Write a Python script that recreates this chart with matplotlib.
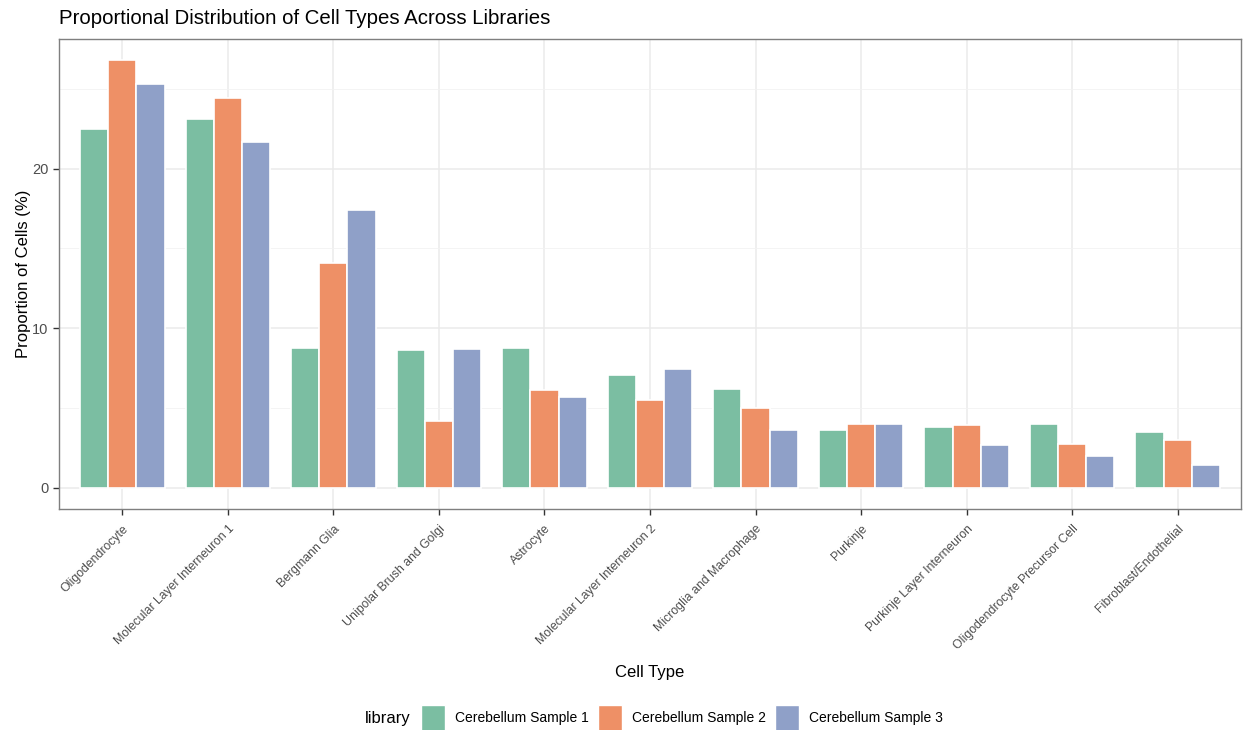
import numpy as np
import matplotlib.pyplot as plt
from matplotlib.patches import Patch
from matplotlib.ticker import MultipleLocator

plt.rcParams['font.family'] = ['Liberation Sans', 'DejaVu Sans']

cell_types = ['Oligodendrocyte', 'Molecular Layer Interneuron 1', 'Bergmann Glia',
              'Unipolar Brush and Golgi', 'Astrocyte', 'Molecular Layer Interneuron 2',
              'Microglia and Macrophage', 'Purkinje', 'Purkinje Layer Interneuron',
              'Oligodendrocyte Precursor Cell', 'Fibroblast/Endothelial']
libraries = ['Cerebellum Sample 1', 'Cerebellum Sample 2', 'Cerebellum Sample 3']
sample1 = [22.5, 23.1, 8.78, 8.65, 8.78, 7.08, 6.2, 3.6, 3.78, 3.97, 3.49]
sample2 = [26.8, 24.45, 14.1, 4.2, 6.14, 5.52, 5.0, 4.01, 3.95, 2.76, 2.99]
sample3 = [25.3, 21.7, 17.43, 8.71, 5.7, 7.46, 3.62, 3.97, 2.65, 2.0, 1.42]
colors = ['#7bbea2', '#ee9066', '#8fa0c8']

values = [sample1, sample2, sample3]
x = np.arange(len(cell_types))
bw = 0.8 / 3

fig = plt.figure(figsize=(12.43, 7.3), dpi=100)
ax = fig.add_axes([59 / 1243, 221 / 730, 1182 / 1243, 470 / 730])

for k, (vals, col) in enumerate(zip(values, colors)):
    ax.bar(x + (k - 1) * bw, vals, width=bw, color=col, edgecolor='white',
           linewidth=1.2, zorder=3)

ymax = max(max(v) for v in values)
ax.set_ylim(-0.05 * ymax, 1.05 * ymax)
ax.set_xlim(-0.6, len(cell_types) - 0.4)

ax.yaxis.set_major_locator(MultipleLocator(10))
ax.yaxis.set_minor_locator(MultipleLocator(5))
ax.set_xticks(x)
ax.set_xticklabels(cell_types, rotation=45, ha='right', rotation_mode='anchor',
                   fontsize=8.8, color='#4d4d4d')
ax.tick_params(axis='x', pad=6)
ax.tick_params(axis='y', labelsize=10.5, labelcolor='#4d4d4d')
ax.tick_params(axis='both', which='major', length=4, width=1, color='#333333')
ax.tick_params(axis='y', which='minor', length=0)

ax.grid(which='major', color='#ebebeb', linewidth=1.1, zorder=0)
ax.grid(which='minor', axis='y', color='#f2f2f2', linewidth=0.6, zorder=0)
ax.set_axisbelow(True)
for s in ax.spines.values():
    s.set_color('#7f7f7f')
    s.set_linewidth(1)

ax.set_xlabel('Cell Type', fontsize=12, labelpad=9)
ax.set_ylabel('Proportion of Cells (%)', fontsize=12, labelpad=1)
fig.text(59 / 1243, 1 - 19 / 730, 'Proportional Distribution of Cell Types Across Libraries',
         fontsize=14.7, ha='left', va='center')

handles = [Patch(facecolor=c, edgecolor='white', label=l) for c, l in zip(colors, libraries)]
fig.legend(handles=handles, loc='center', bbox_to_anchor=(682 / 1243, 1 - 718 / 730),
           ncol=3, frameon=False, fontsize=10, handlelength=1.75, handleheight=2.4,
           handletextpad=0.7, columnspacing=0.65)
fig.text(411 / 1243, 1 - 718 / 730, 'library', fontsize=12, ha='right', va='center')

fig.savefig('out.png', dpi=100)
